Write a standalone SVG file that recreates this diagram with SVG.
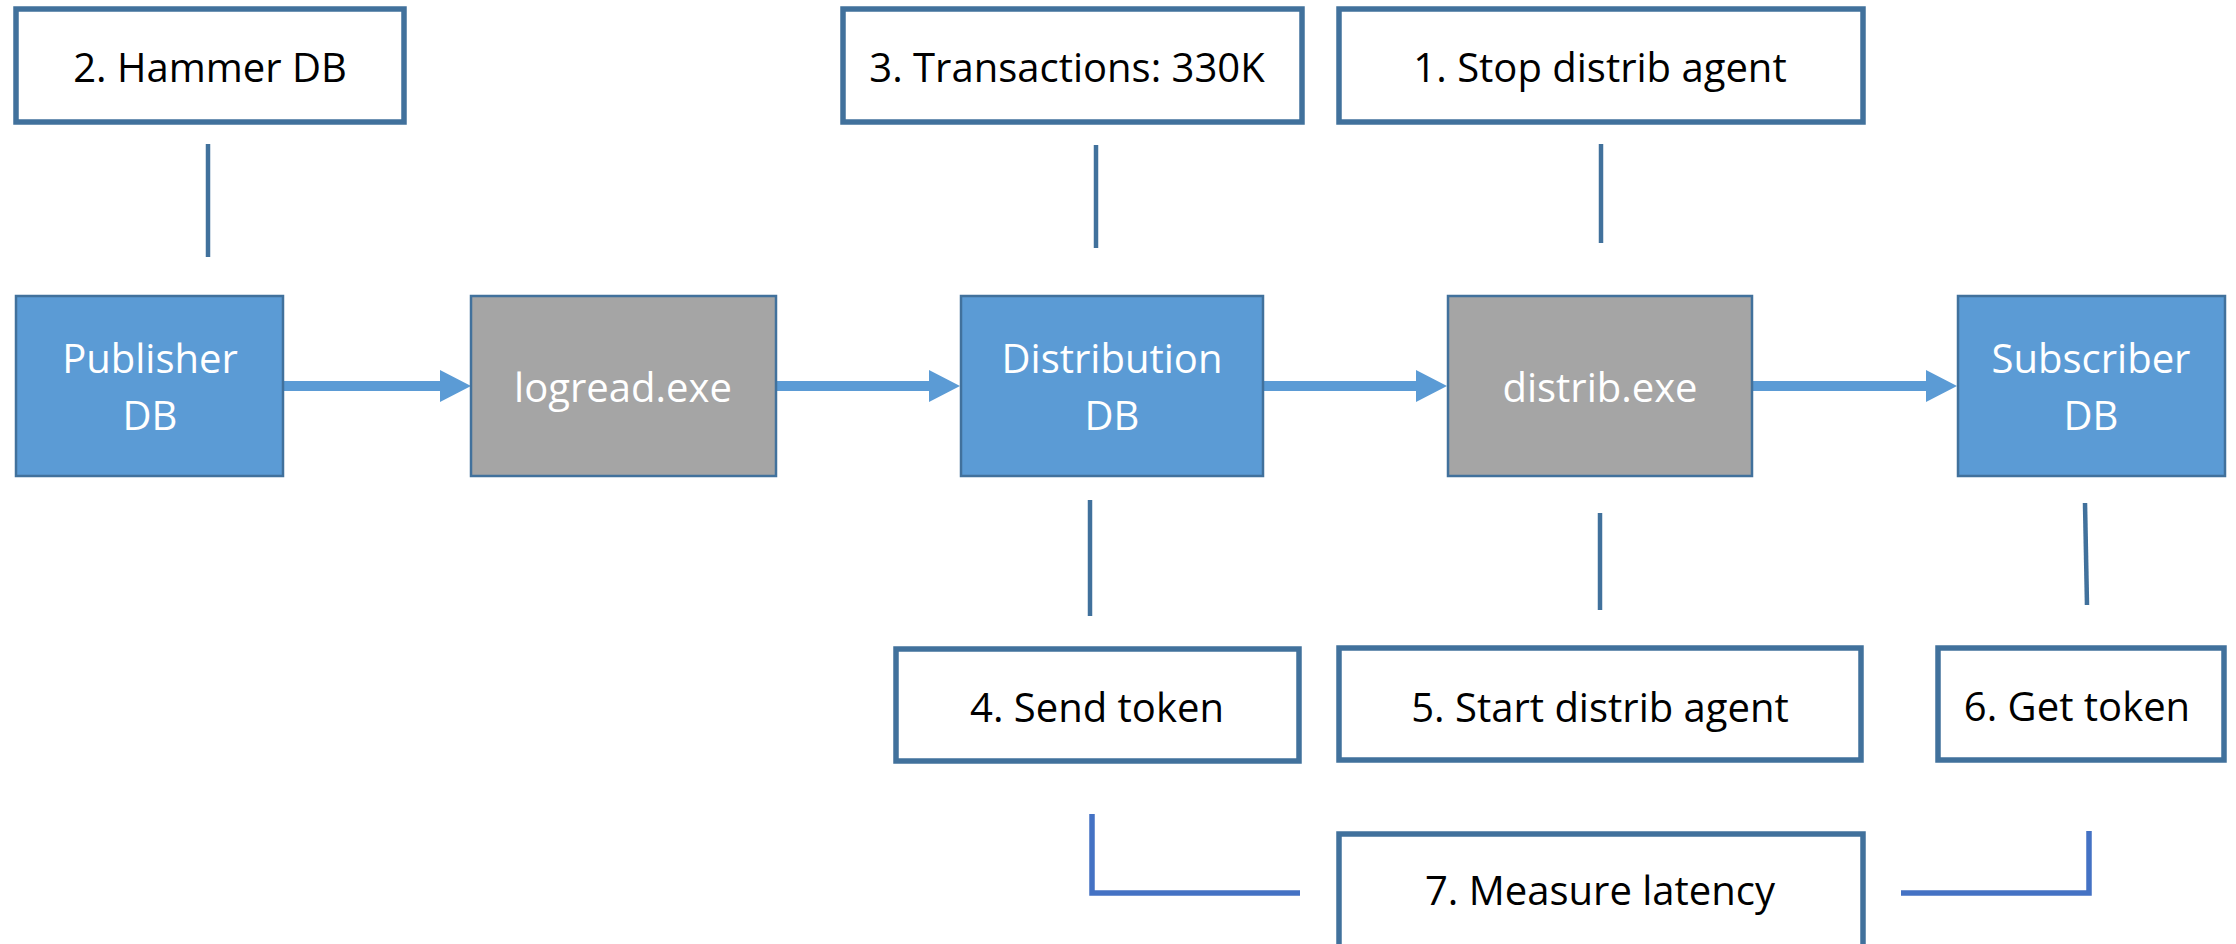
<svg xmlns="http://www.w3.org/2000/svg" width="2236" height="944" viewBox="0 0 2236 944">
<style>
.note{fill:#ffffff;stroke:#41719C;stroke-width:5.5}
.db{fill:#5B9BD5;stroke:#41719C;stroke-width:2.5}
.exe{fill:#A5A5A5;stroke:#41719C;stroke-width:2.5}
.t{font-family:"Open Sans","Liberation Sans",sans-serif;font-size:40px;text-anchor:middle}
.dark{fill:#000000}
.light{fill:#ffffff}
.tick{stroke:#41719C;stroke-width:4.5;fill:none}
.flow{stroke:#5B9BD5;stroke-width:10;fill:none}
.bracket{stroke:#4472C4;stroke-width:5.5;fill:none}
</style>
<defs>
<marker id="head" markerUnits="userSpaceOnUse" viewBox="0 0 31 32" markerWidth="31" markerHeight="32" refX="0" refY="16" orient="auto">
<path d="M0,0 L31,16 L0,32 Z" fill="#5B9BD5"/>
</marker>
</defs>
<rect width="2236" height="944" fill="#ffffff"/>
<g id="connectors">
<line class="tick" x1="208" y1="144" x2="208" y2="257"/>
<line class="tick" x1="1096" y1="145" x2="1096" y2="248"/>
<line class="tick" x1="1601" y1="144" x2="1601" y2="243"/>
<line class="tick" x1="1090" y1="500" x2="1090" y2="616"/>
<line class="tick" x1="1600" y1="513" x2="1600" y2="610"/>
<line class="tick" x1="2085" y1="503" x2="2087" y2="605"/>
<line class="flow" x1="284" y1="386" x2="440" y2="386" marker-end="url(#head)"/>
<line class="flow" x1="777" y1="386" x2="929" y2="386" marker-end="url(#head)"/>
<line class="flow" x1="1264" y1="386" x2="1416" y2="386" marker-end="url(#head)"/>
<line class="flow" x1="1753" y1="386" x2="1926" y2="386" marker-end="url(#head)"/>
<polyline class="bracket" points="1092,814 1092,893 1300,893"/>
<polyline class="bracket" points="1901,893 2089,893 2089,831"/>
</g>
<g id="hammer"><rect class="note" x="16" y="9" width="388" height="113"/><text class="t dark" x="210" y="82">2. Hammer DB</text></g>
<g id="transactions"><rect class="note" x="843" y="9" width="459" height="113"/><text class="t dark" x="1067" y="82">3. Transactions: 330K</text></g>
<g id="stop"><rect class="note" x="1339" y="9" width="524" height="113"/><text class="t dark" x="1600" y="82">1. Stop distrib agent</text></g>
<g id="publisher"><rect class="db" x="16" y="296" width="267" height="180"/><text class="t light" x="150" y="373">Publisher</text><text class="t light" x="150" y="430">DB</text></g>
<g id="logread"><rect class="exe" x="471" y="296" width="305" height="180"/><text class="t light" x="623" y="402">logread.exe</text></g>
<g id="distribution"><rect class="db" x="961" y="296" width="302" height="180"/><text class="t light" x="1112" y="373">Distribution</text><text class="t light" x="1112" y="430">DB</text></g>
<g id="distrib"><rect class="exe" x="1448" y="296" width="304" height="180"/><text class="t light" x="1600" y="402">distrib.exe</text></g>
<g id="subscriber"><rect class="db" x="1958" y="296" width="267" height="180"/><text class="t light" x="2091" y="373">Subscriber</text><text class="t light" x="2091" y="430">DB</text></g>
<g id="send"><rect class="note" x="896" y="649" width="403" height="112"/><text class="t dark" x="1097" y="722">4. Send token</text></g>
<g id="start"><rect class="note" x="1339" y="648" width="522" height="112"/><text class="t dark" x="1600" y="722">5. Start distrib agent</text></g>
<g id="get"><rect class="note" x="1938" y="648" width="286" height="112"/><text class="t dark" x="2077" y="721">6. Get token</text></g>
<g id="measure"><rect class="note" x="1339" y="834" width="524" height="120"/><text class="t dark" x="1600" y="905">7. Measure latency</text></g>
</svg>
